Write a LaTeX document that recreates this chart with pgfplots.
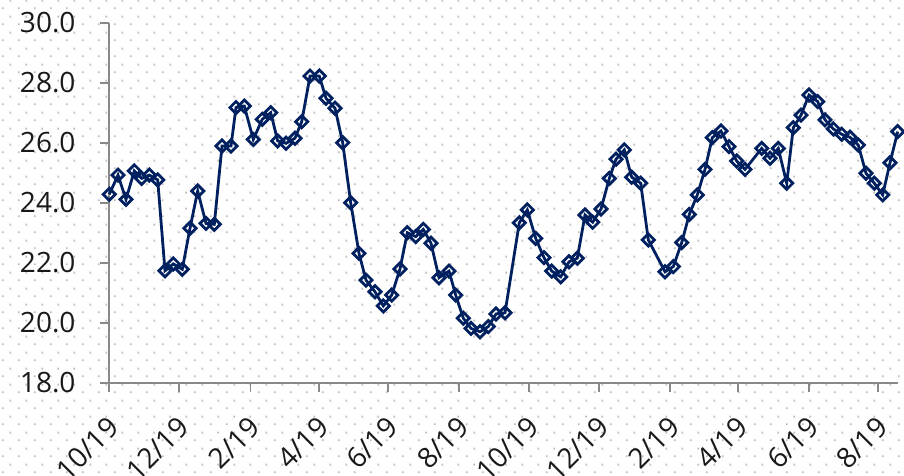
\documentclass[border=0pt]{standalone}
\usepackage{fontspec}
\setmainfont{Open Sans}
\usepackage{pgfplots}
\pgfplotsset{compat=1.18}
\usetikzlibrary{patterns}
\definecolor{navy}{RGB}{0,32,96}
\definecolor{axgray}{RGB}{137,137,137}
\definecolor{dotgray}{RGB}{190,190,190}
\pgfdeclarepatternformonly{mydots}{\pgfqpoint{0pt}{0pt}}{\pgfqpoint{16pt}{16pt}}{\pgfqpoint{16pt}{16pt}}{%
  \pgfpathrectangle{\pgfqpoint{3pt}{3pt}}{\pgfqpoint{2pt}{2pt}}%
  \pgfpathrectangle{\pgfqpoint{11pt}{11pt}}{\pgfqpoint{2pt}{2pt}}%
  \pgfusepath{fill}}
\pgfplotstableread{
x y
109.3 24.29
118 24.93
126 24.12
134.3 25.07
141.7 24.82
149.3 24.93
157.7 24.77
165 21.74
173.3 21.97
182.3 21.79
190 23.16
197.7 24.40
206 23.32
214.3 23.29
222 25.90
231 25.90
236 27.18
244.3 27.23
253.3 26.12
262.3 26.79
270.7 27.01
277.7 26.07
286 25.99
295 26.16
301.7 26.71
310 28.23
319.3 28.23
326 27.49
335 27.16
342.7 26.01
350.7 24.01
359 22.32
366 21.43
375 21.04
383.3 20.57
391.7 20.93
400 21.80
407.3 23.01
415.7 22.88
423.3 23.12
431 22.66
439 21.51
449 21.73
455.7 20.93
463.3 20.16
471 19.82
480 19.71
488.3 19.88
496 20.30
505 20.34
519.3 23.34
527.3 23.77
535.7 22.82
544 22.18
551.7 21.73
560.7 21.54
569 22.04
577.3 22.16
585 23.60
592.7 23.36
601 23.80
609.3 24.82
616 25.46
624.3 25.77
631.7 24.86
640.7 24.66
648.3 22.77
665 21.71
673.3 21.88
681.7 22.68
689.3 23.62
697.3 24.27
705 25.12
712.3 26.18
721 26.40
729 25.88
736.7 25.40
745 25.12
761.7 25.82
770 25.49
778.3 25.82
786.7 24.66
793.3 26.51
801 26.93
809 27.60
817.7 27.38
825 26.77
833.3 26.47
841.7 26.29
850 26.19
858.3 25.93
866 24.99
874.3 24.66
882.7 24.27
890 25.34
897.7 26.38
}\datatable
\begin{document}
\begin{tikzpicture}
\path[use as bounding box] (0,0) rectangle (904pt,476pt);
\fill[pattern=mydots, pattern color=dotgray] (0,0) rectangle (904pt,476pt);
\begin{axis}[
  at={(109pt,93pt)}, anchor=south west,
  scale only axis, width=789pt, height=360pt,
  xmin=109, xmax=898, ymin=18, ymax=30,
  axis x line*=bottom, axis y line*=left,
  axis line style={axgray, line width=1.5pt},
  every tick/.style={axgray, line width=1.5pt},
  tick align=outside, major tick length=9pt,
  xtick={109,179,250.5,319,388,459,529,599,670,738,809,878},
  xticklabels={10/19,12/19,2/19,4/19,6/19,8/19,10/19,12/19,2/19,4/19,6/19,8/19},
  ytick={18,20,22,24,26,28,30},
  yticklabels={18.0,20.0,22.0,24.0,26.0,28.0,30.0},
  ticklabel style={font=\fontsize{28}{32}\selectfont, text=black!90},
  xticklabel style={xshift=7pt, yshift=-28pt, rotate=45, anchor=east},
  yticklabel style={xshift=-21pt, anchor=east},
  clip=false,
]
\addplot[navy, line width=2.8pt, mark=square, mark size=4.3pt,
  mark options={rotate=45, fill=white, line width=2.8pt, solid}]
  table[x=x, y=y] {\datatable};
\end{axis}
\end{tikzpicture}
\end{document}
